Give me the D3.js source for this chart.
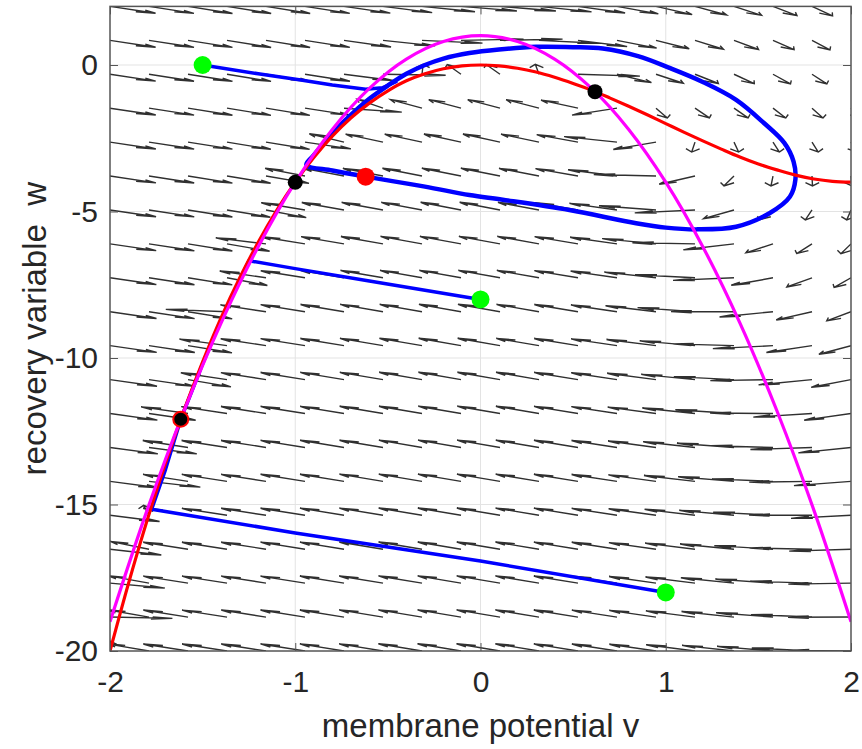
<!DOCTYPE html>
<html><head><meta charset="utf-8">
<script src="https://cdn.jsdelivr.net/npm/d3@7"></script>
<style>
body{margin:0;background:#fff}
svg{display:block}
text{font-family:"Liberation Sans",Arial,Helvetica,sans-serif}
</style>
</head><body>
<svg id="chart" width="862" height="749"></svg>
<script>
// ---- data ----
const vTicks = [-2, -1, 0, 1, 2];
const wTicks = [-20, -15, -10, -5, 0];
const vGridLines = [-1, 0, 1];
const wGridLines = [-15, -10, -5, 0];

// quiver sample grid (20 x 20)
const vGrid = [-2, -1.7895, -1.5789, -1.3684, -1.1579, -0.9474, -0.7368, -0.5263, -0.3158, -0.1053,
  0.1053, 0.3158, 0.5263, 0.7368, 0.9474, 1.1579, 1.3684, 1.5789, 1.7895, 2];
const wGrid = [-20, -18.8421, -17.6842, -16.5263, -15.3684, -14.2105, -13.0526, -11.8947, -10.7368, -9.5789,
  -8.4211, -7.2632, -6.1053, -4.9474, -3.7895, -2.6316, -1.4737, -0.3158, 0.8421, 2];
// model coefficients (dv = w - a v^3 + b v^2 ; dw = c - d v^2 - w)
const modelA = 1, modelB = 3, modelC = 1, modelD = 5;

// v-nullcline (red)
const redV = [-2, -1.9, -1.8, -1.7, -1.6, -1.5, -1.4, -1.3, -1.2, -1.1, -1, -0.9, -0.8, -0.7, -0.6, -0.5, -0.4, -0.3, -0.2, -0.1,
  0, 0.1, 0.2, 0.3, 0.4, 0.5, 0.6, 0.7, 0.8, 0.9, 1, 1.1, 1.2, 1.3, 1.4, 1.5, 1.6, 1.7, 1.8, 1.9, 2];
const redW = [-20, -17.69, -15.55, -13.58, -11.78, -10.13, -8.62, -7.27, -6.05, -4.96, -4, -3.16, -2.43, -1.81, -1.30, -0.88, -0.54, -0.30, -0.13, -0.03,
  0, -0.03, -0.11, -0.24, -0.42, -0.63, -0.86, -1.13, -1.41, -1.70, -2, -2.30, -2.59, -2.87, -3.14, -3.38, -3.58, -3.76, -3.89, -3.97, -4];
// w-nullcline (magenta)
const magV = [-2, -1.8, -1.6, -1.4, -1.2, -1, -0.8, -0.6, -0.4, -0.2, 0, 0.2, 0.4, 0.6, 0.8, 1, 1.2, 1.4, 1.6, 1.8, 2];
const magW = [-19, -15.2, -11.8, -8.8, -6.2, -4, -2.2, -0.8, 0.2, 0.8, 1, 0.8, 0.2, -0.8, -2.2, -4, -6.2, -8.8, -11.8, -15.2, -19];

// trajectories (blue)
const trajApproachV = [-1.5, -1.2, -0.97, -0.8, -0.62, -0.53, -0.45];
const trajApproachW = [0, -0.3, -0.51, -0.68, -0.83, -0.78, -0.55];
const cycleV = [-0.94, -0.9, -0.8, -0.7, -0.6, -0.5, -0.4, -0.3, -0.2, -0.06, 0.1, 0.3, 0.5, 0.66, 0.85, 1.02, 1.2, 1.38, 1.53, 1.64, 1.69, 1.70, 1.67, 1.56, 1.38, 1.17, 1.0, 0.84, 0.48, 0.12, -0.06, -0.3, -0.62, -0.8, -0.94];
const cycleW = [-3.41, -3.08, -2.33, -1.70, -1.15, -0.70, -0.30, 0.0, 0.22, 0.41, 0.53, 0.62, 0.61, 0.56, 0.30, -0.10, -0.58, -1.19, -1.98, -2.66, -3.30, -3.9, -4.5, -5.06, -5.52, -5.61, -5.55, -5.4, -4.95, -4.6, -4.44, -4.15, -3.81, -3.6, -3.41];
const traj2V = [0, -0.6, -1.0, -1.25, -1.3, -1.4, -1.5, -1.6, -1.618];
const traj2W = [-8, -7.37, -6.95, -6.68, -7.35, -8.7, -10.2, -11.8, -12.09];
const traj3V = [1, 0, -1, -1.775, -1.7, -1.618];
const traj3W = [-18, -16.93, -15.97, -15.16, -13.8, -12.09];

// markers
const greenV = [-1.5, 0, 1];
const greenW = [0, -8, -18];
const fixedV = [-1, 0.618];
const fixedW = [-4, -0.91];
const stableV = [-1.618];
const stableW = [-12.09];
const redDotV = [-0.62];
const redDotW = [-3.81];

// ---- drawing ----
const svg = d3.select("#chart");
const L = 110, R = 851, T = 6.4, B = 651;
const x = d3.scaleLinear().domain([-2, 2]).range([L, R]);
const y = d3.scaleLinear().domain([-20, 2]).range([B, T]);

svg.append("defs").append("clipPath").attr("id", "clip")
  .append("rect").attr("x", L).attr("y", T).attr("width", R - L).attr("height", B - T);

// grid
const grid = svg.append("g").attr("stroke", "#e3e3e3").attr("stroke-width", 1);
vGridLines.forEach(v => grid.append("line").attr("x1", x(v)).attr("x2", x(v)).attr("y1", T).attr("y2", B));
wGridLines.forEach(w => grid.append("line").attr("y1", y(w)).attr("y2", y(w)).attr("x1", L).attr("x2", R));

const plot = svg.append("g").attr("clip-path", "url(#clip)");

// quiver
const scaleLen = 0.34, alpha = 0.33, beta = 0.33;
let qd = "";
vGrid.forEach(v => {
  wGrid.forEach(w => {
    const du = w - modelA * v * v * v + modelB * v * v;
    const dw = modelC - modelD * v * v - w;
    const n = Math.hypot(du, dw) || 1;
    const u = scaleLen * du / n, q = scaleLen * dw / n;
    const tx = v + u, ty = w + q;
    const h1x = tx - alpha * (u + beta * q), h1y = ty - alpha * (q - beta * u);
    const h2x = tx - alpha * (u - beta * q), h2y = ty - alpha * (q + beta * u);
    qd += `M${x(v)},${y(w)}L${x(tx)},${y(ty)}M${x(h1x)},${y(h1y)}L${x(tx)},${y(ty)}L${x(h2x)},${y(h2y)}`;
  });
});
plot.append("path").attr("d", qd).attr("fill", "none").attr("stroke", "#303030").attr("stroke-width", 1.4);

const line = d3.line().x(d => x(d[0])).y(d => y(d[1]));
const zip = (a, b) => a.map((d, i) => [d, b[i]]);

// trajectories
const blue = "#0000ff";
plot.append("path").attr("d", line(zip(trajApproachV, trajApproachW)))
  .attr("fill", "none").attr("stroke", blue).attr("stroke-width", 3.5).attr("stroke-linejoin", "round");
plot.append("path").attr("d", d3.line().x(d => x(d[0])).y(d => y(d[1])).curve(d3.curveCatmullRomClosed)(zip(cycleV.slice(0, -1), cycleW.slice(0, -1))))
  .attr("fill", "none").attr("stroke", blue).attr("stroke-width", 4.5);
plot.append("path").attr("d", line(zip(traj2V, traj2W)))
  .attr("fill", "none").attr("stroke", blue).attr("stroke-width", 3.5).attr("stroke-linejoin", "round");
plot.append("path").attr("d", line(zip(traj3V, traj3W)))
  .attr("fill", "none").attr("stroke", blue).attr("stroke-width", 3.5).attr("stroke-linejoin", "round");

// nullclines
const smooth = d3.line().x(d => x(d[0])).y(d => y(d[1])).curve(d3.curveCatmullRom);
plot.append("path").attr("d", smooth(zip(redV, redW)))
  .attr("fill", "none").attr("stroke", "#ff0000").attr("stroke-width", 3.2);
plot.append("path").attr("d", smooth(zip(magV, magW)))
  .attr("fill", "none").attr("stroke", "#ff00ff").attr("stroke-width", 3.2);

// markers
const mk = svg.append("g");
zip(greenV, greenW).forEach(d => mk.append("circle").attr("cx", x(d[0])).attr("cy", y(d[1])).attr("r", 9).attr("fill", "#00ff00"));
zip(fixedV, fixedW).forEach(d => mk.append("circle").attr("cx", x(d[0])).attr("cy", y(d[1])).attr("r", 7.5).attr("fill", "#000"));
zip(stableV, stableW).forEach(d => mk.append("circle").attr("cx", x(d[0])).attr("cy", y(d[1])).attr("r", 7.5).attr("fill", "#000").attr("stroke", "#ff0000").attr("stroke-width", 2));
zip(redDotV, redDotW).forEach(d => mk.append("circle").attr("cx", x(d[0])).attr("cy", y(d[1])).attr("r", 9).attr("fill", "#ff0000"));

// axes
const tickLen = 8;
const fmt = d => String(d);
const gx = svg.append("g").attr("transform", `translate(0,${B})`)
  .call(d3.axisBottom(x).tickValues(vTicks).tickSize(-tickLen).tickPadding(20).tickFormat(fmt));
const gxt = svg.append("g").attr("transform", `translate(0,${T})`)
  .call(d3.axisTop(x).tickValues(vTicks).tickSize(-tickLen).tickFormat(""));
const gy = svg.append("g").attr("transform", `translate(${L},0)`)
  .call(d3.axisLeft(y).tickValues(wTicks).tickSize(-tickLen).tickPadding(12).tickFormat(fmt));
const gyr = svg.append("g").attr("transform", `translate(${R},0)`)
  .call(d3.axisRight(y).tickValues(wTicks).tickSize(-tickLen).tickFormat(""));
[gx, gxt, gy, gyr].forEach(g => {
  g.select(".domain").remove();
  g.selectAll(".tick line").attr("stroke", "#555").attr("stroke-width", 1);
  g.selectAll("text").attr("fill", "#262626").attr("font-size", 30)
    .attr("font-family", "'Liberation Sans', Arial, sans-serif");
});
svg.append("rect").attr("x", L).attr("y", T).attr("width", R - L).attr("height", B - T)
  .attr("fill", "none").attr("stroke", "#555").attr("stroke-width", 1.5);

svg.append("text").attr("x", (L + R) / 2).attr("y", 737).attr("text-anchor", "middle")
  .attr("font-size", 33).attr("fill", "#262626").text("membrane potential v");
svg.append("text").attr("transform", `translate(46,${(T + B) / 2}) rotate(-90)`).attr("text-anchor", "middle")
  .attr("font-size", 33).attr("fill", "#262626").style("white-space", "pre").text("recovery variable  w");
</script>
</body></html>
